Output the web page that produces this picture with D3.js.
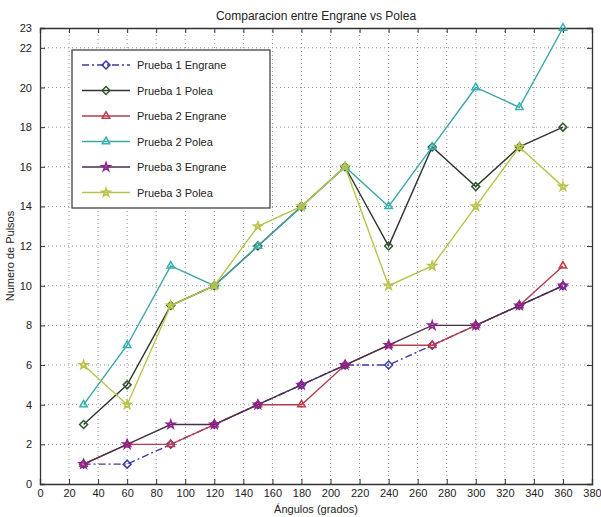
<!DOCTYPE html>
<html>
<head>
<meta charset="utf-8">
<script src="https://cdn.jsdelivr.net/npm/d3@7"></script>
<style>
  body { margin: 0; background: #fff; }
  text { font-family: "Liberation Sans", Arial, sans-serif; fill: #222; }
</style>
</head>
<body>
<svg id="chart" width="601" height="517"></svg>
<script>
// data
const angulos = [30, 60, 90, 120, 150, 180, 210, 240, 270, 300, 330, 360];
const prueba1Engrane = [1, 1, 2, 3, 4, 5, 6, 6, 7, 8, 9, 10];
const prueba1Polea = [3, 5, 9, 10, 12, 14, 16, 12, 17, 15, 17, 18];
const prueba2Engrane = [1, 2, 2, 3, 4, 4, 6, 7, 7, 8, 9, 11];
const prueba2Polea = [4, 7, 11, 10, 12, 14, 16, 14, 17, 20, 19, 23];
const prueba3Engrane = [1, 2, 3, 3, 4, 5, 6, 7, 8, 8, 9, 10];
const prueba3Polea = [6, 4, 9, 10, 13, 14, 16, 10, 11, 14, 17, 15];
const seriesNames = ["Prueba 1 Engrane", "Prueba 1 Polea", "Prueba 2 Engrane", "Prueba 2 Polea", "Prueba 3 Engrane", "Prueba 3 Polea"];
const xTicks = d3.range(0, 381, 20);
const yTicks = [0, 2, 4, 6, 8, 10, 12, 14, 16, 18, 20, 22, 23];

let svg = d3.select("#chart");
const margin = { left: 40, right: 9, top: 28, bottom: 33 };
const width = 601 - margin.left - margin.right;
const height = 517 - margin.top - margin.bottom;

let x = d3.scaleLinear().domain([0, 380]).range([margin.left, margin.left + width]);
let y = d3.scaleLinear().domain([0, 23]).range([margin.top + height, margin.top]);

// dotted grid
let grid = svg.append("g");
grid.selectAll(".vg").data(xTicks.slice(1, -1)).enter().append("line")
    .attr("x1", d => x(d)).attr("x2", d => x(d))
    .attr("y1", y(0)).attr("y2", y(23))
    .style("stroke", "#777").style("stroke-width", 0.8).style("stroke-dasharray", "1,3");
grid.selectAll(".hg").data(yTicks.slice(1, -1)).enter().append("line")
    .attr("x1", x(0)).attr("x2", x(380))
    .attr("y1", d => y(d)).attr("y2", d => y(d))
    .style("stroke", "#777").style("stroke-width", 0.8).style("stroke-dasharray", "1,3");

// axes, ticks pointing inwards like matlab
let xAxis = svg.append("g").attr("transform", `translate(0,${y(0)})`)
    .call(d3.axisBottom(x).tickValues(xTicks).tickSize(-5).tickPadding(5));
let xTop = svg.append("g").attr("transform", `translate(0,${y(23)})`)
    .call(d3.axisTop(x).tickValues(xTicks).tickSize(-5).tickFormat(""));
let yAxis = svg.append("g").attr("transform", `translate(${x(0)},0)`)
    .call(d3.axisLeft(y).tickValues(yTicks).tickSize(-5).tickPadding(8));
let yRight = svg.append("g").attr("transform", `translate(${x(380)},0)`)
    .call(d3.axisRight(y).tickValues(yTicks).tickSize(-5).tickFormat(""));

[xAxis, xTop, yAxis, yRight].forEach(a => {
    a.select(".domain").style("stroke", "#333").style("stroke-width", 1.3);
    a.selectAll(".tick line").style("stroke", "#333");
    a.selectAll("text").style("font-size", "11px").style("font-family", "Liberation Sans, Arial, sans-serif").style("fill", "#222");
});

// titles
svg.append("text").attr("x", 316).attr("y", 20).attr("text-anchor", "middle")
    .style("font-size", "12px").text("Comparacion entre Engrane vs Polea");
svg.append("text").attr("x", 316).attr("y", 513).attr("text-anchor", "middle")
    .style("font-size", "11px").text("Ángulos (grados)");
svg.append("text").attr("transform", "translate(14,256) rotate(-90)").attr("text-anchor", "middle")
    .style("font-size", "11px").text("Numero de Pulsos");

const allValues = [prueba1Engrane, prueba1Polea, prueba2Engrane, prueba2Polea, prueba3Engrane, prueba3Polea];
const lineColors = ["#3a3aa8", "#2e352e", "#b04050", "#3aa6a6", "#4a2d4a", "#b9c34a"];
const markerColors = ["#3a3aa8", "#2f5a2f", "#c03a4a", "#35b0b0", "#902090", "#b9c34a"];
const dashes = ["7,3,2,3", null, null, null, null, null];
const shapes = [d3.symbolDiamond2, d3.symbolDiamond2, d3.symbolTriangle2, d3.symbolTriangle2, d3.symbolStar, d3.symbolStar];
const sizes = [40, 40, 40, 40, 22, 22];

let line = d3.line().x((d, i) => x(angulos[i])).y(d => y(d));

// draw order: polea first so engrane lines sit on top
[1, 3, 5, 0, 2, 4].forEach(k => {
    svg.append("path").datum(allValues[k])
        .attr("d", line)
        .style("fill", "none")
        .style("stroke", lineColors[k])
        .style("stroke-width", 1.4)
        .style("stroke-dasharray", dashes[k]);
    svg.selectAll(".m" + k).data(allValues[k]).enter().append("path")
        .attr("transform", (d, i) => `translate(${x(angulos[i])},${y(d)})`)
        .attr("d", d3.symbol().type(shapes[k]).size(sizes[k]))
        .style("fill", "none")
        .style("stroke", markerColors[k])
        .style("stroke-width", 1.5);
});

// legend box
let legend = svg.append("g");
legend.append("rect").attr("x", 72).attr("y", 50).attr("width", 198).attr("height", 158)
    .style("fill", "#fff").style("stroke", "#333").style("stroke-width", 1.2);
seriesNames.forEach((name, k) => {
    let ly = 65 + k * 25.5;
    legend.append("line").attr("x1", 82).attr("x2", 130).attr("y1", ly).attr("y2", ly)
        .style("stroke", lineColors[k]).style("stroke-width", 1.4).style("stroke-dasharray", dashes[k]);
    legend.append("path").attr("transform", `translate(106,${ly})`)
        .attr("d", d3.symbol().type(shapes[k]).size(sizes[k]))
        .style("fill", "none").style("stroke", markerColors[k]).style("stroke-width", 1.5);
    legend.append("text").attr("x", 137).attr("y", ly + 4).style("font-size", "11px").text(name);
});
</script>
</body>
</html>
